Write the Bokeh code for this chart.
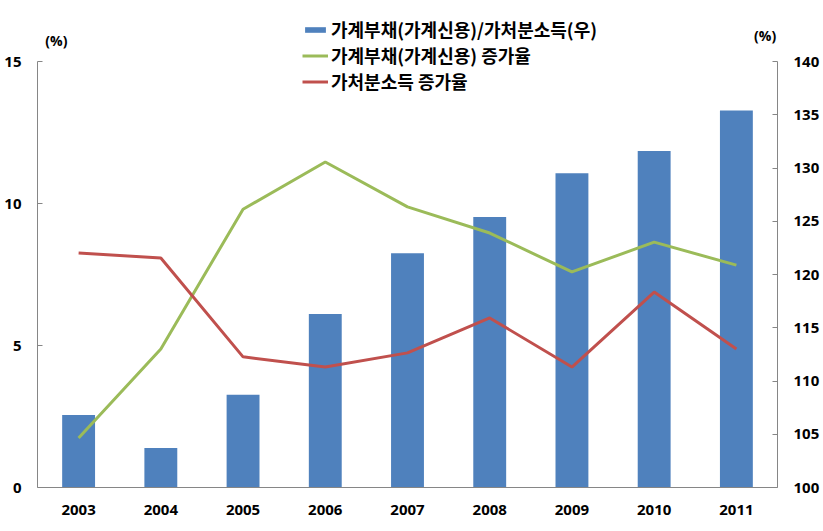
from bokeh.plotting import figure
from bokeh.models import Range1d, LinearAxis, Legend, LegendItem, Label, FactorRange, FixedTicker
from bokeh.embed import file_html
from bokeh.resources import INLINE

years = ["2003", "2004", "2005", "2006", "2007", "2008", "2009", "2010", "2011"]
debt_to_income = [106.8, 103.7, 108.7, 116.3, 122.0, 125.4, 129.5, 131.6, 135.4]
debt_growth = [1.74, 4.88, 9.80, 11.46, 9.88, 8.96, 7.59, 8.64, 7.83]
income_growth = [8.26, 8.08, 4.60, 4.24, 4.74, 5.97, 4.24, 6.88, 4.88]

left_ticks = [0, 5, 10, 15]
right_ticks = [100, 105, 110, 115, 120, 125, 130, 135, 140]

name_bar = "가계부채(가계신용)/가처분소득(우)"
name_debt = "가계부채(가계신용) 증가율"
name_income = "가처분소득 증가율"

AXIS_COLOR = "#868686"
NUM_FONT = "Open Sans"

# The frame reaches up to the legend so the legend and unit labels are not clipped;
# the axes are bounded to their real ranges (0-15 and 100-140).
AXIS_PX = 426
FRAME_PX = 479
stretch = FRAME_PX / AXIS_PX
left_lo, left_hi = 0, 15
right_lo, right_hi = 100, 140

p = figure(frame_width=740, frame_height=FRAME_PX, x_range=FactorRange(*years, range_padding=0),
           y_range=Range1d(left_lo, left_lo + (left_hi - left_lo) * stretch),
           output_backend="svg", toolbar_location=None,
           min_border_left=37, min_border_right=44, min_border_top=8, min_border_bottom=44)
p.extra_y_ranges = {"right": Range1d(right_lo, right_lo + (right_hi - right_lo) * stretch)}
p.outline_line_color = None
p.xgrid.grid_line_color = None
p.ygrid.grid_line_color = None
p.background_fill_color = "white"

bars = p.vbar(x=years, top=debt_to_income, bottom=right_lo, width=0.4, y_range_name="right",
              fill_color="#4F81BD", line_color=None)
l1 = p.line(x=years, y=debt_growth, line_color="#9BBB59", line_width=3)
l2 = p.line(x=years, y=income_growth, line_color="#C0504D", line_width=3)

def style_axis(ax, standoff):
    ax.axis_line_color = AXIS_COLOR
    ax.major_tick_line_color = AXIS_COLOR
    ax.major_tick_in = 5
    ax.major_tick_out = 0
    ax.minor_tick_line_color = None
    ax.major_label_standoff = standoff
    ax.major_label_text_font = NUM_FONT
    ax.major_label_text_font_style = "bold"
    ax.major_label_text_font_size = "15px"
    ax.major_label_text_color = "black"

ya = p.yaxis[0]
ya.ticker = FixedTicker(ticks=left_ticks)
ya.bounds = (left_lo, left_hi)
style_axis(ya, 16)

ra = LinearAxis(y_range_name="right", ticker=FixedTicker(ticks=right_ticks),
                bounds=(right_lo, right_hi))
style_axis(ra, 16)
p.add_layout(ra, "right")

xa = p.xaxis[0]
style_axis(xa, 17)
xa.major_tick_line_color = None

legend = Legend(items=[LegendItem(label=name_bar, renderers=[bars]),
                       LegendItem(label=name_debt, renderers=[l1]),
                       LegendItem(label=name_income, renderers=[l2])],
                location=(265, 393), margin=0, padding=0, border_line_color=None,
                background_fill_alpha=0, glyph_width=26, glyph_height=7,
                label_height=20, label_standoff=3, spacing=0,
                label_text_font="Noto Sans CJK KR", label_text_font_size="18px",
                label_text_font_style="bold", label_text_color="black")
p.add_layout(legend, "center")

for lx, ly in [(0.23, 15.74), (8.85, 15.92)]:
    p.add_layout(Label(x=lx, y=ly, text="(%)",
                       text_align="center", text_baseline="middle",
                       text_font=NUM_FONT, text_font_style="bold", text_font_size="14px",
                       text_color="black"))

open("out.html", "w").write(file_html(p, INLINE))
